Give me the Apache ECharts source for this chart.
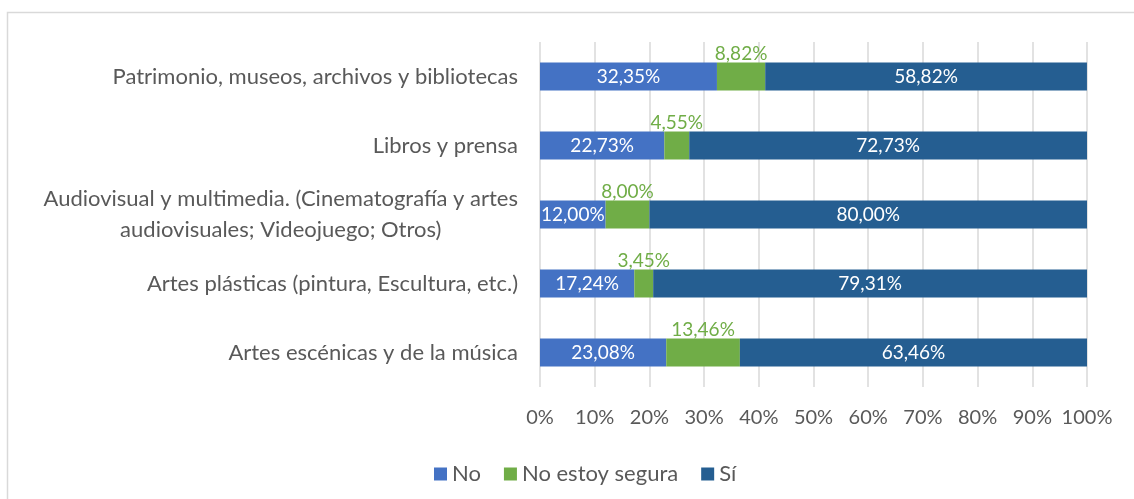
<!DOCTYPE html>
<html>
<head>
<meta charset="utf-8">
<script src="https://cdn.jsdelivr.net/npm/echarts@6/dist/echarts.min.js"></script>
<style>
    html, body { margin: 0; padding: 0; background: #fff; }
    #chart { width: 1134px; height: 499px; }
</style>
</head>
<body>
<div id="chart"></div>
<script>
const categories = [
    'Patrimonio, museos, archivos y bibliotecas',
    'Libros y prensa',
    'Audiovisual y multimedia. (Cinematografía y artes\naudiovisuales; Videojuego; Otros)',
    'Artes plásticas (pintura, Escultura, etc.)',
    'Artes escénicas y de la música'
];
const seriesNames = ['No', 'No estoy segura', 'Sí'];
const noValues = [32.35, 22.73, 12.0, 17.24, 23.08];
const unsureValues = [8.82, 4.55, 8.0, 3.45, 13.46];
const yesValues = [58.82, 72.73, 80.0, 79.31, 63.46];
const xTicks = [0, 10, 20, 30, 40, 50, 60, 70, 80, 90, 100];

const colors = ['#4472C4', '#70AD47', '#255E91'];
const font = 'Lato';
const grey = '#595959';

const fmt = v => v.toFixed(2).replace('.', ',') + '%';

function makeSeries(name, data, idx) {
    const isMid = idx === 1;
    return {
        name: name,
        type: 'bar',
        stack: 'total',
        barWidth: 28,
        data: data,
        itemStyle: { color: colors[idx] },
        label: {
            show: true,
            position: isMid ? 'top' : 'inside',
            distance: isMid ? -1 : 5,
            color: isMid ? '#70AD47' : '#ffffff',
            fontFamily: font,
            fontSize: 19,
            formatter: p => fmt(p.value)
        }
    };
}

const chart = echarts.init(document.getElementById('chart'));
chart.setOption({
    animation: false,
    color: colors,
    graphic: [{
        type: 'rect',
        shape: { x: 7.5, y: 12.5, width: 1300, height: 700 },
        style: { fill: 'none', stroke: '#d9d9d9', lineWidth: 1.5 },
        silent: true
    }],
    grid: { left: 540, right: 47, top: 42, bottom: 112, containLabel: false },
    legend: {
        data: seriesNames,
        left: 429,
        top: 458,
        itemWidth: 13,
        itemHeight: 13,
        itemGap: 23,
        icon: 'rect',
        textStyle: { color: grey, fontFamily: font, fontSize: 22 }
    },
    xAxis: {
        type: 'value',
        min: xTicks[0],
        max: xTicks[xTicks.length - 1],
        interval: 10,
        axisLine: { show: false },
        axisTick: { show: false },
        splitLine: { lineStyle: { color: '#d9d9d9', width: 1.5 } },
        axisLabel: {
            color: grey,
            fontFamily: font,
            fontSize: 20,
            margin: 21,
            formatter: v => v + '%'
        }
    },
    yAxis: {
        type: 'category',
        inverse: true,
        data: categories,
        axisLine: { show: false },
        axisTick: { show: false },
        axisLabel: {
            margin: 22,
            formatter: v => v.split('\n').map(l => '{c|' + l + '}').join('\n'),
            rich: {
                c: { align: 'center', color: grey, fontFamily: font, fontSize: 22, lineHeight: 31 }
            }
        }
    },
    series: [
        makeSeries(seriesNames[0], noValues, 0),
        makeSeries(seriesNames[1], unsureValues, 1),
        makeSeries(seriesNames[2], yesValues, 2)
    ]
});
</script>
</body>
</html>
